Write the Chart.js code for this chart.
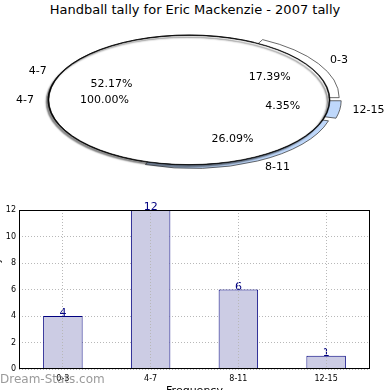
<!DOCTYPE html>
<html><head><meta charset="utf-8">
<script src="https://cdn.jsdelivr.net/npm/chart.js@4.4.1/dist/chart.umd.min.js"></script>
<style>
html,body{margin:0;padding:0;width:390px;height:390px;overflow:hidden;background:#fff;font-family:"DejaVu Sans",sans-serif;}
#title{position:absolute;left:0;top:2px;width:390px;text-align:center;font-size:13px;color:#000;white-space:nowrap;}
#pieA,#pieB{position:absolute;left:0;top:0;}
#bar{position:absolute;left:-8px;top:200px;}
#wm{position:absolute;left:0;top:372px;font-size:12px;color:rgba(120,120,120,0.75);white-space:nowrap;}
</style></head><body>
<div id="title">Handball tally for Eric Mackenzie - 2007 tally</div>
<canvas id="bar" width="398" height="198"></canvas>
<canvas id="pieA" width="390" height="390"></canvas>
<canvas id="pieB" width="390" height="390"></canvas>
<div id="wm">Dream-Stats.com</div>
<script>
const categories = ['0-3', '4-7', '8-11', '12-15'];
const tally = [4, 12, 6, 1];
const yTicks = [0, 2, 4, 6, 8, 10, 12];
const pieColors = ['#ffffff', '#ffffff', '#bfd8fb', '#bfd8fb'];
const pieExplode = [9.5, 0, 8, 6.5];   // pixels

const CX = 189, CY = 100, R = 141, SY = 65 / 141;
const total = tally.reduce((a, b) => a + b, 0);

// pie draws clockwise from 3 o'clock; matplotlib order is counter-clockwise, so reverse
const order = categories.map((c, i) => i).reverse();

const ellipsePlugin = {
  id: 'ellipse',
  beforeDatasetsDraw(chart) {
    const ctx = chart.ctx;
    const a = chart.getDatasetMeta(0).data[0];
    ctx.save();
    ctx.translate(CX, CY);
    ctx.scale(1, SY);
    ctx.translate(-a.x, -a.y);
    if (chart.options.plugins.ellipse && chart.options.plugins.ellipse.shadow) {
      ctx.shadowColor = 'rgba(0,0,0,0.45)';
      ctx.shadowOffsetX = -2;
      ctx.shadowOffsetY = 2;
      ctx.shadowBlur = 1.5;
    }
  },
  afterDatasetsDraw(chart) { chart.ctx.restore(); }
};

const chartA = new Chart(document.getElementById('pieA'), {
  type: 'pie',
  data: {
    labels: order.map(i => categories[i]),
    datasets: [{
      data: order.map(i => tally[i]),
      backgroundColor: order.map(i => pieColors[i]),
      offset: order.map(i => pieExplode[i] * 4),
      borderColor: '#333333',
      borderWidth: 1
    }]
  },
  options: {
    responsive: false, animation: false, radius: R, rotation: 90,
    plugins: { legend: { display: false }, tooltip: { enabled: false } }
  },
  plugins: [ellipsePlugin]
});

function drawPieLabels(ctx, el, label, pct, off) {
  const mid = (el.startAngle + el.endAngle) / 2;
  const c = Math.cos(mid), s = Math.sin(mid);
  const lx = CX + c * (R * 1.1 + off), ly = CY + s * (R * 1.1 + off) * SY;
  const px = CX + c * (R * 0.6 + off), py = CY + s * (R * 0.6 + off) * SY;
  ctx.textBaseline = 'middle';
  ctx.textAlign = c >= 0 ? 'left' : 'right';
  ctx.fillText(label, lx, ly);
  ctx.textAlign = 'center';
  ctx.fillText(pct, px, py);
}

const labelPlugin = {
  id: 'pieLabels',
  afterDraw(chart) {
    const ctx = chart.ctx;
    ctx.save();
    ctx.fillStyle = '#000';
    ctx.font = '11px "DejaVu Sans"';
    const metaA = chartA.getDatasetMeta(0);
    metaA.data.forEach((el, k) => {
      const i = order[k];
      drawPieLabels(ctx, el, categories[i], (tally[i] / total * 100).toFixed(2) + '%', i === 1 ? 0 : 10);
    });
    const elB = chart.getDatasetMeta(1).data[0];
    drawPieLabels(ctx, elB, categories[1], '100.00%', 0);
    ctx.restore();
  }
};

new Chart(document.getElementById('pieB'), {
  type: 'pie',
  data: {
    labels: [categories[1]],
    datasets: [
      { data: [tally[1]], backgroundColor: '#000000', borderColor: '#000000', borderWidth: 0.8, weight: 0.9 },
      { data: [tally[1]], backgroundColor: '#ffffff', borderWidth: 0, weight: 140.1 }
    ]
  },
  options: {
    responsive: false, animation: false, radius: R, rotation: 90,
    plugins: { legend: { display: false }, tooltip: { enabled: false }, ellipse: { shadow: true } }
  },
  plugins: [ellipsePlugin, labelPlugin]
});

const barLabels = {
  id: 'barLabels',
  afterDatasetsDraw(chart) {
    const ctx = chart.ctx;
    const meta = chart.getDatasetMeta(0);
    ctx.save();
    ctx.fillStyle = '#000080';
    ctx.font = '11px "DejaVu Sans"';
    ctx.textAlign = 'center';
    ctx.textBaseline = 'alphabetic';
    meta.data.forEach((b, i) => ctx.fillText(String(tally[i]), b.x, b.y));
    ctx.restore();
  }
};
const frame = {
  id: 'frame',
  afterDraw(chart) {
    const a = chart.chartArea, ctx = chart.ctx;
    ctx.save();
    ctx.strokeStyle = '#000';
    ctx.lineWidth = 1;
    ctx.strokeRect(Math.round(a.left) + 0.5, Math.round(a.top) + 0.5, Math.round(a.width) - 1, Math.round(a.height) - 1);
    ctx.restore();
  }
};

new Chart(document.getElementById('bar'), {
  type: 'bar',
  data: {
    labels: categories,
    datasets: [{
      data: tally, backgroundColor: '#ccccE4', borderColor: '#000080', borderWidth: 1,
      barPercentage: 0.45, categoryPercentage: 1
    }]
  },
  options: {
    responsive: false, animation: false,
    layout: { padding: { top: 10, right: 20, left: 0, bottom: 0 } },
    plugins: { legend: { display: false }, tooltip: { enabled: false } },
    scales: {
      x: {
        grid: { offset: false, color: '#b8b8b8', drawTicks: false, z: 1 },
        border: { display: false, dash: [1, 2] },
        ticks: { font: { size: 8, family: 'DejaVu Sans' }, color: '#000', padding: 5 },
        title: { display: true, text: 'Frequency', font: { size: 11, family: 'DejaVu Sans' }, color: '#000', padding: 0 },
        afterFit(s) { s.height = 29; }
      },
      y: {
        min: 0, max: 12,
        afterBuildTicks(s) { s.ticks = yTicks.map(v => ({ value: v })); },
        grid: { color: '#b8b8b8', drawTicks: false },
        border: { display: false, dash: [1, 2] },
        ticks: { font: { size: 8, family: 'DejaVu Sans' }, color: '#000', padding: 3 },
        title: { display: true, text: 'Handball Tally', font: { size: 9, family: 'DejaVu Sans' }, color: '#000', padding: 0 },
        afterFit(s) { s.width = 27; }
      }
    }
  },
  plugins: [barLabels, frame]
});
</script>
</body></html>
